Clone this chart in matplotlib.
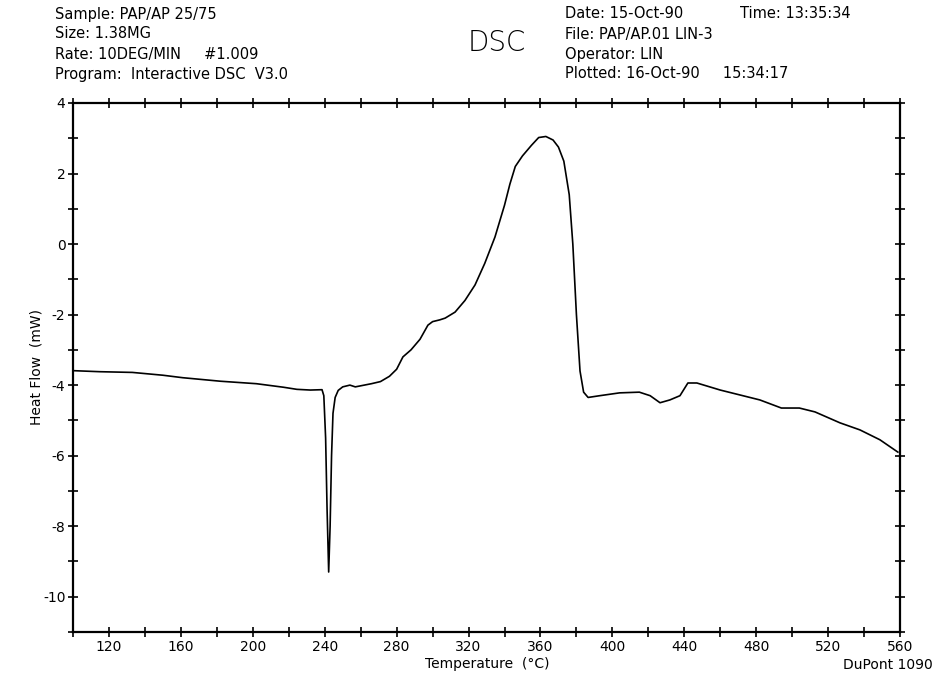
import matplotlib
matplotlib.use("Agg")
import matplotlib.pyplot as plt
from matplotlib.ticker import MultipleLocator

# DSC trace: temperature (C) and heat flow (mW)
temp = [100, 115, 133, 150, 161, 182, 202, 217, 224.5, 232, 238.5,
        239.5, 240.5, 241.3, 242.2, 243.0, 243.8, 244.6, 245.8, 247.5,
        250, 254, 257, 260, 266, 271, 276, 280, 283.5, 288, 293, 297.4,
        300, 304, 307, 312.5, 318, 323.6, 329, 334.7, 340, 343, 346,
        350, 355, 359, 363, 367, 370, 373, 376, 378, 380, 382, 384,
        386.5, 393, 404, 415, 421, 426.5, 432, 437.6, 442, 447,
        460, 482, 494, 504, 512.7, 526.6, 537.7, 548.8, 558.8]
heat = [-3.59, -3.62, -3.64, -3.72, -3.79, -3.89, -3.96, -4.06, -4.12,
        -4.14, -4.13, -4.3, -5.5, -7.5, -9.3, -8.0, -6.0, -4.8, -4.35,
        -4.15, -4.05, -4.0, -4.05, -4.02, -3.96, -3.9, -3.75, -3.55,
        -3.2, -3.0, -2.7, -2.3, -2.2, -2.15, -2.1, -1.93, -1.6, -1.16,
        -0.55, 0.2, 1.1, 1.7, 2.2, 2.5, 2.8, 3.02, 3.05, 2.95, 2.75, 2.35,
        1.4, 0.0, -2.0, -3.6, -4.2, -4.35, -4.3, -4.22, -4.2, -4.3,
        -4.5, -4.42, -4.3, -3.94, -3.94, -4.14, -4.42, -4.65, -4.65,
        -4.76, -5.07, -5.27, -5.55, -5.9]

header_left = ["Sample: PAP/AP 25/75", "Size: 1.38MG",
               "Rate: 10DEG/MIN     #1.009", "Program:  Interactive DSC  V3.0"]
header_right = ["Date: 15-Oct-90", "File: PAP/AP.01 LIN-3",
                "Operator: LIN", "Plotted: 16-Oct-90     15:34:17"]

plt.rcParams['font.family'] = ['DejaVu Sans']
plt.rcParams['axes.unicode_minus'] = False

fig = plt.figure(figsize=(9.35, 6.77), dpi=100)
ax = fig.add_axes([0.0781, 0.0665, 0.8845, 0.7814])

ax.plot(temp, heat, color="black", linewidth=1.2)
ax.set_xlim(100, 560)
ax.set_ylim(-11, 4)

ax.set_xticks(range(120, 561, 40))
ax.xaxis.set_minor_locator(MultipleLocator(20))
ax.yaxis.set_major_locator(MultipleLocator(2))
ax.yaxis.set_minor_locator(MultipleLocator(1))
ax.tick_params(which="both", direction="inout", length=7, width=1.2,
               top=True, right=True, labelsize=10, pad=2)
for s in ax.spines.values():
    s.set_linewidth(1.6)

ax.set_ylabel("Heat Flow  (mW)", fontsize=10)
ax.yaxis.set_label_coords(-30 / 827, 0.5)
fig.text(487 / 935, 1 - 664 / 677, "Temperature  (°C)", fontsize=10,
         ha="center", va="center")
fig.text(933 / 935, 1 - 665 / 677, "DuPont 1090", fontsize=10,
         ha="right", va="center")

for i, line in enumerate(header_left):
    fig.text(55 / 935, 1 - (14 + 20 * i) / 677, line, fontsize=10.5,
             ha="left", va="center")
for i, line in enumerate(header_right):
    fig.text(565 / 935, 1 - (14 + 20 * i) / 677, line, fontsize=10.5,
             ha="left", va="center")
fig.text(740 / 935, 1 - 14 / 677, "Time: 13:35:34", fontsize=10.5,
         ha="left", va="center")
fig.text(497 / 935, 1 - 43 / 677, "DSC", fontsize=20, fontweight="light",
         ha="center", va="center")

fig.savefig("out.png", dpi=100)
